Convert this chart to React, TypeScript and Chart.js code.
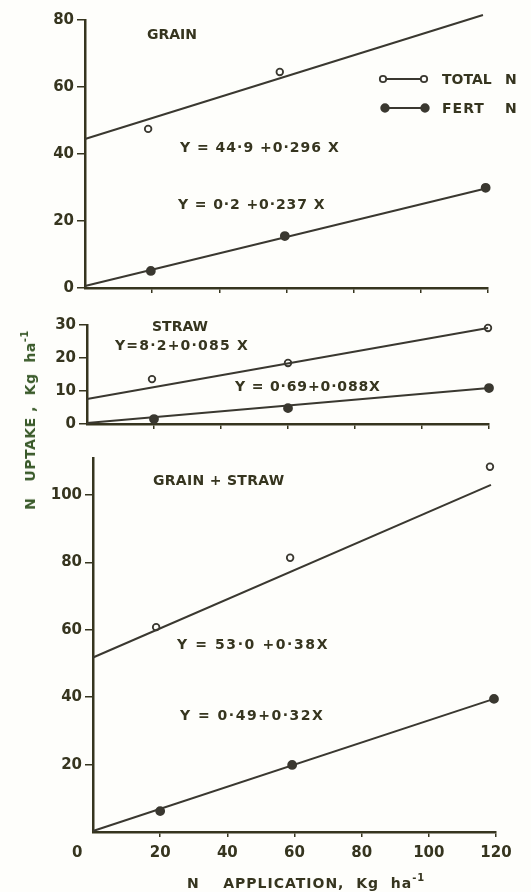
import React, { useEffect, useRef } from "react";
import { Chart, registerables } from "chart.js";

Chart.register(...registerables);

// ---------- data ----------
const xTicks = [20, 40, 60, 80, 100, 120];

// GRAIN
const grainTotalX = [18.8, 58, 118.5];
const grainTotalY = [47.5, 64.5, 81.8];
const grainFertX = [19.6, 59.5, 119.3];
const grainFertY = [5.1, 15.5, 29.9];
const grainTotalFitX = [0, 118.5];
const grainTotalFitY = [44.5, 81.5];
const grainFertFitX = [0, 119.3];
const grainFertFitY = [0.6, 29.7];
const grainYTicks = [0, 20, 40, 60, 80];

// STRAW
const strawTotalX = [19.4, 60, 119.7];
const strawTotalY = [13.6, 18.5, 29.1];
const strawFertX = [20, 60, 120];
const strawFertY = [1.5, 4.8, 10.9];
const strawTotalFitX = [0, 119.7];
const strawTotalFitY = [7.6, 29.1];
const strawFertFitX = [0, 120];
const strawFertFitY = [0.3, 10.9];
const strawYTicks = [0, 10, 20, 30];

// GRAIN + STRAW
const bothTotalX = [18.8, 58.7, 118.2];
const bothTotalY = [60.8, 81.4, 108.4];
const bothFertX = [20, 59.3, 119.4];
const bothFertY = [6.2, 19.9, 39.5];
const bothTotalFitX = [0, 118.5];
const bothTotalFitY = [51.8, 103];
const bothFertFitX = [0, 119.4];
const bothFertFitY = [0.3, 39.5];
const bothYTicks = [20, 40, 60, 80, 100];

// texts
const panelTitles = ["GRAIN", "STRAW", "GRAIN + STRAW"];
const equations = [
  "Y = 44·9 +0·296 X",
  "Y = 0·2 +0·237 X",
  "Y=8·2+0·085 X",
  "Y = 0·69+0·088X",
  "Y = 53·0 +0·38X",
  "Y = 0·49+0·32X",
];
const legendLabels = ["TOTAL", "FERT"];

// ---------- style ----------
const INK = "#36351f";
const LINE = "#3a3830";
const BG = "#fefefb";
const FONT = "'DejaVu Sans', sans-serif";

type Panel = {
  top: number;
  height: number;
  areaLeft: number;
  areaRight: number;
  areaTop: number;
  areaBottom: number;
  yMax: number;
  yTicks: number[];
  showXLabels: boolean;
  totalX: number[];
  totalY: number[];
  fertX: number[];
  fertY: number[];
  totalFitX: number[];
  totalFitY: number[];
  fertFitX: number[];
  fertFitY: number[];
  legend: boolean;
};

const panels: Panel[] = [
  {
    top: 0, height: 300, areaLeft: 85, areaRight: 488, areaTop: 20, areaBottom: 289,
    yMax: 80, yTicks: grainYTicks, showXLabels: false,
    totalX: grainTotalX, totalY: grainTotalY, fertX: grainFertX, fertY: grainFertY,
    totalFitX: grainTotalFitX, totalFitY: grainTotalFitY, fertFitX: grainFertFitX, fertFitY: grainFertFitY,
    legend: true,
  },
  {
    top: 300, height: 140, areaLeft: 87, areaRight: 489, areaTop: 325, areaBottom: 424,
    yMax: 30, yTicks: strawYTicks, showXLabels: false,
    totalX: strawTotalX, totalY: strawTotalY, fertX: strawFertX, fertY: strawFertY,
    totalFitX: strawTotalFitX, totalFitY: strawTotalFitY, fertFitX: strawFertFitX, fertFitY: strawFertFitY,
    legend: false,
  },
  {
    top: 440, height: 452, areaLeft: 93, areaRight: 496, areaTop: 458, areaBottom: 832,
    yMax: 111, yTicks: bothYTicks, showXLabels: true,
    totalX: bothTotalX, totalY: bothTotalY, fertX: bothFertX, fertY: bothFertY,
    totalFitX: bothTotalFitX, totalFitY: bothTotalFitY, fertFitX: bothFertFitX, fertFitY: bothFertFitY,
    legend: false,
  },
];

const zip = (xs: number[], ys: number[]) => xs.map((x, i) => ({ x, y: ys[i] }));

const legendPlugin = {
  id: "legendSamples",
  afterDraw(chart: any, _args: any, opts: any) {
    if (!opts || !opts.show) return;
    const ctx = chart.ctx;
    const rows = [
      { y: 79 - opts.top, x1: 383, x2: 424, open: true },
      { y: 108 - opts.top, x1: 385, x2: 425, open: false },
    ];
    ctx.save();
    rows.forEach((r) => {
      ctx.strokeStyle = LINE;
      ctx.lineWidth = 2;
      ctx.beginPath();
      ctx.moveTo(r.x1, r.y);
      ctx.lineTo(r.x2, r.y);
      ctx.stroke();
      [r.x1, r.x2].forEach((x) => {
        ctx.beginPath();
        ctx.arc(x, r.y, r.open ? 3.2 : 3.8, 0, Math.PI * 2);
        ctx.fillStyle = r.open ? BG : LINE;
        ctx.fill();
        ctx.lineWidth = 1.8;
        ctx.stroke();
      });
    });
    ctx.restore();
  },
};

function buildChart(canvas: HTMLCanvasElement, p: Panel) {
  const fitDs = (xs: number[], ys: number[]) => ({
    data: zip(xs, ys),
    borderColor: LINE,
    borderWidth: 2,
    pointRadius: 0,
    showLine: true,
    clip: false as any,
  });
  const ptDs = (xs: number[], ys: number[], open: boolean) => ({
    data: zip(xs, ys),
    showLine: false,
    borderColor: LINE,
    pointRadius: open ? 3.3 : 4,
    pointBorderWidth: 1.8,
    pointBorderColor: LINE,
    pointBackgroundColor: open ? BG : LINE,
    clip: false as any,
  });
  return new Chart(canvas, {
    type: "line",
    data: {
      datasets: [
        fitDs(p.totalFitX, p.totalFitY),
        fitDs(p.fertFitX, p.fertFitY),
        ptDs(p.totalX, p.totalY, true),
        ptDs(p.fertX, p.fertY, false),
      ] as any,
    },
    options: {
      animation: false,
      responsive: false,
      maintainAspectRatio: false,
      events: [],
      layout: {
        padding: { top: p.areaTop - p.top, right: 531 - p.areaRight, left: 0, bottom: 0 },
      },
      plugins: {
        legend: { display: false },
        tooltip: { enabled: false },
        legendSamples: { show: p.legend, top: p.top },
      } as any,
      scales: {
        x: {
          type: "linear",
          min: 0,
          max: 120,
          afterBuildTicks: (s: any) => {
            s.ticks = xTicks.map((v) => ({ value: v }));
          },
          afterFit: (s: any) => {
            s.height = p.top + p.height - p.areaBottom;
          },
          grid: {
            display: true,
            drawOnChartArea: false,
            drawTicks: true,
            tickLength: 5,
            color: INK,
            lineWidth: 1.5,
          },
          border: { display: true, color: INK, width: 2.5 },
          ticks: {
            display: p.showXLabels,
            color: INK,
            font: { size: 15, family: FONT, weight: "bold" },
            padding: 7,
            maxRotation: 0,
            autoSkip: false,
          },
        },
        y: {
          type: "linear",
          min: 0,
          max: p.yMax,
          afterBuildTicks: (s: any) => {
            s.ticks = p.yTicks.map((v) => ({ value: v }));
          },
          afterFit: (s: any) => {
            s.width = p.areaLeft;
          },
          grid: {
            display: true,
            drawOnChartArea: false,
            drawTicks: true,
            tickLength: 8,
            color: INK,
            lineWidth: 1.5,
          },
          border: { display: true, color: INK, width: 2.5 },
          ticks: {
            color: INK,
            font: { size: 15, family: FONT, weight: "bold" },
            padding: 3,
            autoSkip: false,
          },
        },
      },
    } as any,
    plugins: [legendPlugin as any],
  });
}

const textStyle = (left: number, cy: number, spacing = 0, extra: any = {}) => ({
  position: "absolute" as const,
  left,
  top: cy,
  transform: "translateY(-50%)",
  whiteSpace: "pre" as const,
  fontSize: 14,
  fontWeight: "bold" as const,
  lineHeight: 1,
  letterSpacing: spacing,
  fontFamily: FONT,
  color: INK,
  ...extra,
});

export default function App() {
  const refs = [useRef<HTMLCanvasElement>(null), useRef<HTMLCanvasElement>(null), useRef<HTMLCanvasElement>(null)];

  useEffect(() => {
    const charts = panels.map((p, i) => buildChart(refs[i].current as HTMLCanvasElement, p));
    return () => charts.forEach((c) => c.destroy());
  }, []);

  return (
    <div
      style={{
        position: "absolute",
        left: 0,
        top: 0,
        width: 531,
        height: 892,
        background: BG,
        overflow: "hidden",
        fontFamily: FONT,
      }}
    >
      {panels.map((p, i) => (
        <canvas
          key={i}
          ref={refs[i]}
          width={531}
          height={p.height}
          style={{ position: "absolute", left: 0, top: p.top, width: 531, height: p.height }}
        />
      ))}

      <div style={textStyle(147, 34)}>{panelTitles[0]}</div>
      <div style={textStyle(180, 147, 1)}>{equations[0]}</div>
      <div style={textStyle(178, 204, 0.9)}>{equations[1]}</div>
      <div style={textStyle(442, 79)}>{legendLabels[0]}</div>
      <div style={textStyle(505, 79)}>N</div>
      <div style={textStyle(442, 108, 1)}>{legendLabels[1]}</div>
      <div style={textStyle(505, 108)}>N</div>

      <div style={textStyle(152, 326)}>{panelTitles[1]}</div>
      <div style={textStyle(115, 345, 1.2)}>{equations[2]}</div>
      <div style={textStyle(235, 386, 0.85)}>{equations[3]}</div>

      <div style={textStyle(153, 480, 0.3)}>{panelTitles[2]}</div>
      <div style={textStyle(177, 644, 1.6)}>{equations[4]}</div>
      <div style={textStyle(180, 715, 1.5)}>{equations[5]}</div>

      <div style={textStyle(72, 852, 0, { fontSize: 15 })}>0</div>

      <div
        style={{
          position: "absolute",
          left: 30,
          top: 420,
          transform: "translate(-50%, -50%) rotate(-90deg)",
          whiteSpace: "pre",
          fontSize: 14,
          fontWeight: "bold",
          lineHeight: 1,
          letterSpacing: 0.5,
          fontFamily: FONT,
          color: "#3a5a2a",
        }}
      >
        {"N   UPTAKE ,  Kg  ha"}
        <span style={{ fontSize: 10, position: "relative", top: -7 }}>-1</span>
      </div>

      <div style={textStyle(187, 883, 1)}>
        {"N    APPLICATION,  Kg  ha"}
        <span style={{ fontSize: 10, position: "relative", top: -7 }}>-1</span>
      </div>
    </div>
  );
}
